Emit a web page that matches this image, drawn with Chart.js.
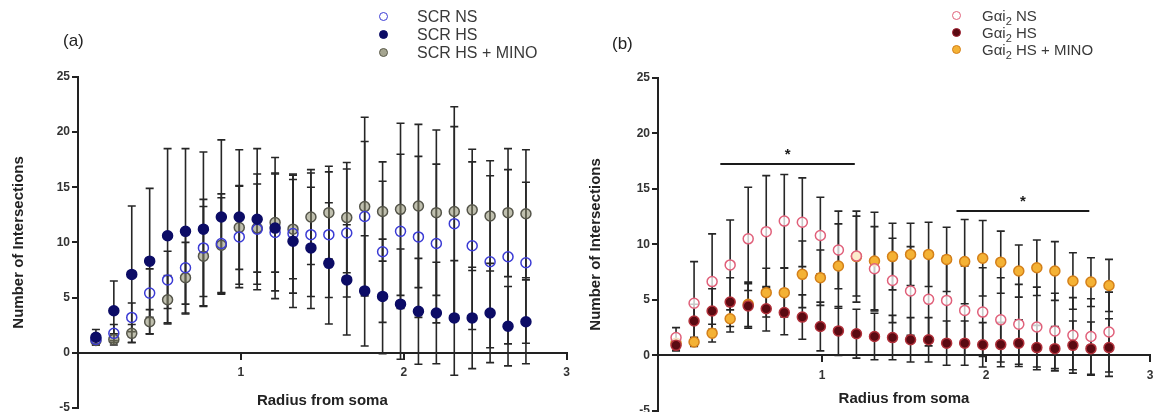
<!DOCTYPE html>
<html lang="en">
<head>
<meta charset="UTF-8">
<title>Sholl analysis - SCR and Gai2</title>
<script src="https://cdn.jsdelivr.net/npm/chart.js"></script>
<style>
  html, body { margin: 0; padding: 0; background: #fff; overflow: hidden; width: 1155px; height: 412px; }
  body { position: relative; font-family: "Liberation Sans", Arial, sans-serif; }
  .panel { position: absolute; top: 0; }
  #panelA { left: 0; width: 577px; height: 417px; }
  #panelB { left: 577px; width: 590px; height: 420px; }
  .tag { position: absolute; font-size: 17px; color: #222; }
  .legend { position: absolute; font-size: 16px; color: #3a3a3a; }
  .legend div { position: relative; height: 18px; line-height: 18px; white-space: nowrap; }
  .legend .dot { position: absolute; left: 0; top: 4px; width: 7px; height: 7px; border-radius: 50%; border: 1.5px solid; }
  .legend sub { font-size: 11px; line-height: 0; }
  #legA div { padding-left: 38px; }
  #legB { font-size: 15px; }
  #legB div { padding-left: 30px; height: 17px; line-height: 17px; }
  #legB .dot { top: 3.5px; }
</style>
</head>
<body>
  <div class="panel" id="panelA"><canvas id="chartA"></canvas></div>
  <div class="panel" id="panelB"><canvas id="chartB"></canvas></div>

  <div class="tag" style="left:63px; top:31px;">(a)</div>
  <div class="tag" style="left:612px; top:34px;">(b)</div>

  <div class="legend" id="legA" style="left:379px; top:8px;">
    <div><span class="dot" style="border-color:#3b3bd4; background:#fff;"></span>SCR NS</div>
    <div><span class="dot" style="border-color:#0c0c66; background:#0c0c66;"></span>SCR HS</div>
    <div><span class="dot" style="border-color:#5a5a4a; background:#a5a590;"></span>SCR HS + MINO</div>
  </div>
  <div class="legend" id="legB" style="left:952px; top:7px;">
    <div><span class="dot" style="border-color:#e0607a; background:#fff;"></span>G&alpha;i<sub>2</sub> NS</div>
    <div><span class="dot" style="border-color:#a02030; background:#5a0a12;"></span>G&alpha;i<sub>2</sub> HS</div>
    <div><span class="dot" style="border-color:#d4801a; background:#f4b235;"></span>G&alpha;i<sub>2</sub> HS + MINO</div>
  </div>

<script>
// radius from soma (shared by both panels)
const radius = [0.11, 0.22, 0.33, 0.44, 0.55, 0.66, 0.77, 0.88, 0.99, 1.10, 1.21, 1.32, 1.43,
                1.54, 1.65, 1.76, 1.87, 1.98, 2.09, 2.20, 2.31, 2.42, 2.53, 2.64, 2.75];

// panel (a): SCR
const scrNS     = [1.2, 1.75, 3.2, 5.4, 6.6, 7.7, 9.5, 9.9, 10.5, 11.2, 10.9, 10.8, 10.7, 10.7, 10.85,
                   12.35, 9.15, 11.0, 10.5, 9.9, 11.7, 9.7, 8.25, 8.7, 8.15];
const scrNSsd   = [0.5, 0.8, 1.3, 2.2, 2.6, 3.3, 4.4, 4.5, 4.6, 5.0, 5.3, 5.4, 5.6, 5.7, 5.8,
                   6.8, 6.4, 7.0, 7.3, 7.2, 8.8, 7.6, 7.8, 7.9, 7.3];
const scrHS     = [1.4, 3.8, 7.1, 8.3, 10.6, 11.0, 11.2, 12.3, 12.3, 12.1, 11.3, 10.1, 9.5, 8.1, 6.6,
                   5.6, 5.1, 4.4, 3.75, 3.6, 3.15, 3.15, 3.6, 2.4, 2.8];
const scrHSsd   = [0.7, 2.7, 6.2, 6.6, 7.9, 7.5, 7.0, 7.0, 6.1, 6.4, 6.4, 6.0, 5.5, 5.5, 5.0,
                   5.0, 5.2, 5.0, 4.8, 4.6, 5.2, 4.6, 4.5, 3.6, 3.8];
const scrMino   = [1.1, 1.2, 1.75, 2.8, 4.8, 6.8, 8.75, 9.75, 11.35, 11.3, 11.8, 11.2, 12.3, 12.7, 12.25,
                   13.25, 12.8, 13.0, 13.3, 12.7, 12.8, 12.95, 12.4, 12.7, 12.6];
const scrMinoSd = [0.3, 0.5, 0.8, 1.1, 2.2, 3.2, 4.5, 4.3, 3.8, 4.0, 4.5, 4.5, 4.3, 4.2, 5.0,
                   8.1, 4.5, 7.8, 7.4, 7.5, 9.5, 5.5, 5.0, 5.8, 5.8];

// panel (b): Gai2
const gaiNS     = [1.6, 4.7, 6.65, 8.15, 10.5, 11.15, 12.1, 12.0, 10.8, 9.5, 8.95, 7.8, 6.75, 5.8, 5.05,
                   4.95, 4.05, 3.9, 3.2, 2.8, 2.55, 2.2, 1.8, 1.7, 2.1];
const gaiNSsd   = [0.9, 3.75, 4.3, 4.05, 4.65, 5.05, 4.2, 4.0, 3.45, 3.5, 3.6, 3.8, 3.8, 4.0, 4.2,
                   4.0, 4.0, 4.0, 3.8, 3.6, 3.6, 3.4, 3.4, 3.4, 3.6];
const gaiHS     = [0.9, 3.1, 4.0, 4.8, 4.45, 4.2, 3.85, 3.45, 2.6, 2.2, 1.95, 1.7, 1.6, 1.4, 1.4,
                   1.1, 1.1, 0.95, 0.97, 1.1, 0.7, 0.6, 0.9, 0.6, 0.7];
const gaiHSsd   = [0.5, 1.5, 2.0, 2.2, 2.0, 2.0, 2.0, 2.0, 2.2, 2.2, 2.2, 2.1, 2.0, 2.0, 2.0,
                   2.0, 2.0, 2.0, 2.0, 2.1, 2.0, 2.0, 2.2, 2.4, 2.6];
const gaiMino   = [1.1, 1.2, 2.0, 3.3, 4.6, 5.65, 5.65, 7.3, 7.0, 8.05, 8.9, 8.5, 8.9, 9.1, 9.1,
                   8.65, 8.45, 8.75, 8.4, 7.6, 7.9, 7.6, 6.7, 6.6, 6.3];
const gaiMinoSd = [0.3, 0.4, 0.8, 1.2, 2.0, 2.2, 2.2, 3.0, 2.5, 3.8, 4.1, 4.4, 3.0, 2.8, 2.9,
                   2.9, 3.8, 3.4, 2.8, 2.35, 2.5, 2.65, 2.55, 2.2, 2.35];

// significance bars in panel (b)
const sigStart = [0.38, 1.82];
const sigEnd   = [1.20, 2.63];
const sigLevel = [17.25, 13.0];

const yTicks = [-5, 0, 5, 10, 15, 20, 25];

Chart.defaults.font.family = '"Liberation Sans", Arial, sans-serif';

const errorBars = {
    id: 'errorBars',
    beforeDatasetsDraw(chart) {
        const { ctx, scales: { x, y } } = chart;
        ctx.save();
        ctx.strokeStyle = '#262626';
        ctx.lineWidth = 1.6;
        chart.data.datasets.forEach(ds => {
            ds.data.forEach((p, i) => {
                const px = x.getPixelForValue(p.x);
                const top = y.getPixelForValue(p.y + ds.errors[i]);
                const bot = y.getPixelForValue(p.y - ds.errors[i]);
                ctx.beginPath();
                ctx.moveTo(px, top); ctx.lineTo(px, bot);
                ctx.moveTo(px - 4, top); ctx.lineTo(px + 4, top);
                ctx.moveTo(px - 4, bot); ctx.lineTo(px + 4, bot);
                ctx.stroke();
            });
        });
        ctx.restore();
    }
};

const sigPlugin = {
    id: 'sigBars',
    afterDatasetsDraw(chart) {
        const { ctx, scales: { x, y } } = chart;
        ctx.save();
        ctx.strokeStyle = '#1a1a1a';
        ctx.fillStyle = '#1a1a1a';
        ctx.lineWidth = 2;
        ctx.font = 'bold 15px "Liberation Sans", Arial, sans-serif';
        ctx.textAlign = 'center';
        ctx.textBaseline = 'middle';
        for (let i = 0; i < sigStart.length; i++) {
            const x1 = x.getPixelForValue(sigStart[i]);
            const x2 = x.getPixelForValue(sigEnd[i]);
            const py = y.getPixelForValue(sigLevel[i]);
            ctx.beginPath();
            ctx.moveTo(x1, py); ctx.lineTo(x2, py);
            ctx.stroke();
            ctx.fillText('*', (x1 + x2) / 2, py - 9);
        }
        ctx.restore();
    }
};

function series(values, errors, fill, border) {
    return {
        data: radius.map((r, i) => ({ x: r, y: values[i] })),
        errors: errors,
        backgroundColor: fill,
        borderColor: border,
        pointRadius: 5,
        pointBorderWidth: 1.5,
        showLine: false
    };
}

function makePanel(id, datasets, yWidth, xHeight, top, extraPlugins) {
    return new Chart(document.getElementById(id), {
        type: 'scatter',
        data: { datasets: datasets },
        plugins: [errorBars].concat(extraPlugins),
        options: {
            responsive: true,
            maintainAspectRatio: false,
            animation: false,
            events: [],
            layout: { padding: { top: top, left: 0, right: id === 'chartA' ? 7 : 17, bottom: 0 } },
            plugins: { legend: { display: false }, tooltip: { enabled: false } },
            scales: {
                x: {
                    type: 'linear',
                    position: { y: 0 },
                    min: 0,
                    max: 3,
                    ticks: {
                        stepSize: 1,
                        padding: 7,
                        color: '#333',
                        font: { size: 12, weight: 'bold' },
                        callback: v => (v === 0 ? '' : v)
                    },
                    grid: { drawOnChartArea: false, drawTicks: true, tickLength: 6, color: '#222', lineWidth: 2 },
                    border: { color: '#222', width: 2 },
                    title: {
                        display: true,
                        text: 'Radius from soma',
                        color: '#222',
                        font: { size: 15, weight: 'bold' },
                        padding: 0
                    },
                    afterFit(scale) { scale.height = xHeight; }
                },
                y: {
                    min: -5,
                    max: 25,
                    afterBuildTicks(scale) { scale.ticks = yTicks.map(v => ({ value: v })); },
                    ticks: { padding: 2, color: '#333', font: { size: 12, weight: 'bold' } },
                    grid: { drawOnChartArea: false, drawTicks: true, tickLength: 6, color: '#222', lineWidth: 2 },
                    border: { color: '#222', width: 2 },
                    title: {
                        display: true,
                        text: 'Number of Intersections',
                        color: '#222',
                        font: { size: 15, weight: 'bold' },
                        padding: { top: 10, bottom: 0 }
                    },
                    afterFit(scale) { scale.width = yWidth; }
                }
            }
        }
    });
}

makePanel('chartA', [
    series(scrHS, scrHSsd, '#0c0c66', '#0c0c66'),
    series(scrNS, scrNSsd, 'rgba(255,255,255,0)', '#3b3bd4'),
    series(scrMino, scrMinoSd, 'rgba(140,140,110,0.55)', '#55554a')
], 78, 57, 77, []);

makePanel('chartB', [
    series(gaiHS, gaiHSsd, '#5a0a12', '#b0303a'),
    series(gaiNS, gaiNSsd, 'rgba(255,255,255,0.75)', '#e0607a'),
    series(gaiMino, gaiMinoSd, '#f4b235', '#d4801a')
], 81, 53, 78, [sigPlugin]);
</script>
</body>
</html>
